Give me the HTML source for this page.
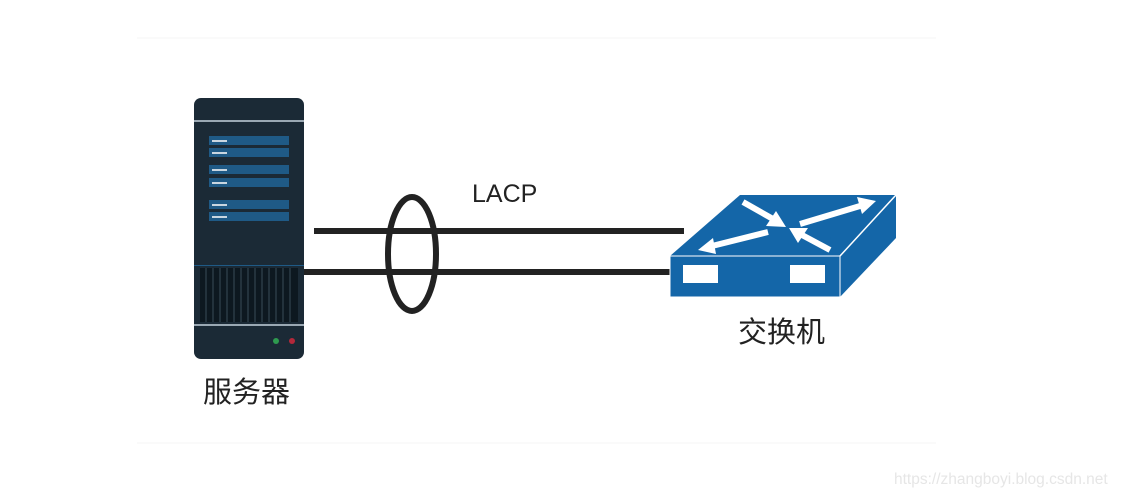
<!DOCTYPE html>
<html><head><meta charset="utf-8"><style>
html,body{margin:0;padding:0;background:#fff;}
svg{display:block}
</style></head><body>
<svg width="1125" height="497" viewBox="0 0 1125 497" xmlns="http://www.w3.org/2000/svg">
<line x1="137" y1="38" x2="936" y2="38" stroke="#f4f4f4" stroke-width="1"/>
<line x1="137" y1="443" x2="936" y2="443" stroke="#f4f4f4" stroke-width="1"/>
<!-- server -->
<rect x="194" y="98" width="110" height="261" rx="7" fill="#1b2a36"/>
<rect x="194" y="120" width="110" height="2" fill="#9aa8b3"/>
<g fill="#1f5a86">
<rect x="209" y="136" width="80" height="9"/><rect x="209" y="148" width="80" height="9"/>
<rect x="209" y="165" width="80" height="9"/><rect x="209" y="178" width="80" height="9"/>
<rect x="209" y="200" width="80" height="9"/><rect x="209" y="212" width="80" height="9"/>
</g>
<g fill="#c9d6e0">
<rect x="212" y="140" width="15" height="2"/><rect x="212" y="152" width="15" height="2"/>
<rect x="212" y="169" width="15" height="2"/><rect x="212" y="182" width="15" height="2"/>
<rect x="212" y="204" width="15" height="2"/><rect x="212" y="216" width="15" height="2"/>
</g>
<rect x="194" y="265" width="110" height="1" fill="#1f5a86"/>
<rect x="200" y="268" width="98" height="54" fill="#0d1820"/>
<g stroke="#2b3a46" stroke-width="1.5">
<line x1="206" y1="268" x2="206" y2="322"/><line x1="213" y1="268" x2="213" y2="322"/><line x1="220" y1="268" x2="220" y2="322"/><line x1="227" y1="268" x2="227" y2="322"/><line x1="234" y1="268" x2="234" y2="322"/><line x1="241" y1="268" x2="241" y2="322"/><line x1="248" y1="268" x2="248" y2="322"/><line x1="255" y1="268" x2="255" y2="322"/><line x1="262" y1="268" x2="262" y2="322"/><line x1="269" y1="268" x2="269" y2="322"/><line x1="276" y1="268" x2="276" y2="322"/><line x1="283" y1="268" x2="283" y2="322"/><line x1="290" y1="268" x2="290" y2="322"/>
</g>
<rect x="194" y="324" width="110" height="2" fill="#9aa8b3"/>
<circle cx="276" cy="341" r="3" fill="#2e9a4f"/>
<circle cx="292" cy="341" r="3" fill="#b4283a"/>
<!-- links -->
<line x1="314" y1="231" x2="684" y2="231" stroke="#222" stroke-width="6"/>
<line x1="304" y1="272" x2="672" y2="272" stroke="#222" stroke-width="6"/>
<ellipse cx="412" cy="254" rx="24" ry="57" fill="none" stroke="#222" stroke-width="6"/>
<text x="472" y="202" font-family="Liberation Sans, sans-serif" font-size="25" fill="#222">LACP</text>
<!-- switch -->
<polygon points="670,256 740,195 896,195 840,256" fill="#1466a8"/>
<polygon points="840,256 896,195 896,238 840,297" fill="#1466a8"/>
<line x1="840" y1="256" x2="896" y2="195" stroke="#fff" stroke-width="1.5"/>
<rect x="670" y="256" width="170" height="41" fill="#1466a8" stroke="#fff" stroke-width="1"/>
<rect x="683" y="265" width="35" height="18" fill="#fff"/>
<rect x="790" y="265" width="35" height="18" fill="#fff"/>
<g stroke="#fff" stroke-width="6" stroke-linecap="butt">
<line x1="743" y1="202" x2="773" y2="219"/>
<line x1="768" y1="232" x2="712" y2="246"/>
<line x1="800" y1="224" x2="860" y2="206"/>
<line x1="830" y1="250" x2="802" y2="235"/>
</g>
<g fill="#fff">
<polygon points="786,227 766,226 776,211"/>
<polygon points="698,250 713,238 716,254"/>
<polygon points="876,201 857,197 862,214"/>
<polygon points="789,228 808,228 798,243"/>
</g>
<text x="738" y="342" font-family="Liberation Sans, 'Noto Sans CJK SC', sans-serif" font-size="29" fill="#222">交换机</text>
<text x="203" y="402" font-family="Liberation Sans, 'Noto Sans CJK SC', sans-serif" font-size="29" fill="#222">服务器</text>
<text x="894" y="484" font-family="Liberation Sans, sans-serif" font-size="15.5" fill="#e6e6e6">https://zhangboyi.blog.csdn.net</text>
</svg>
</body></html>
